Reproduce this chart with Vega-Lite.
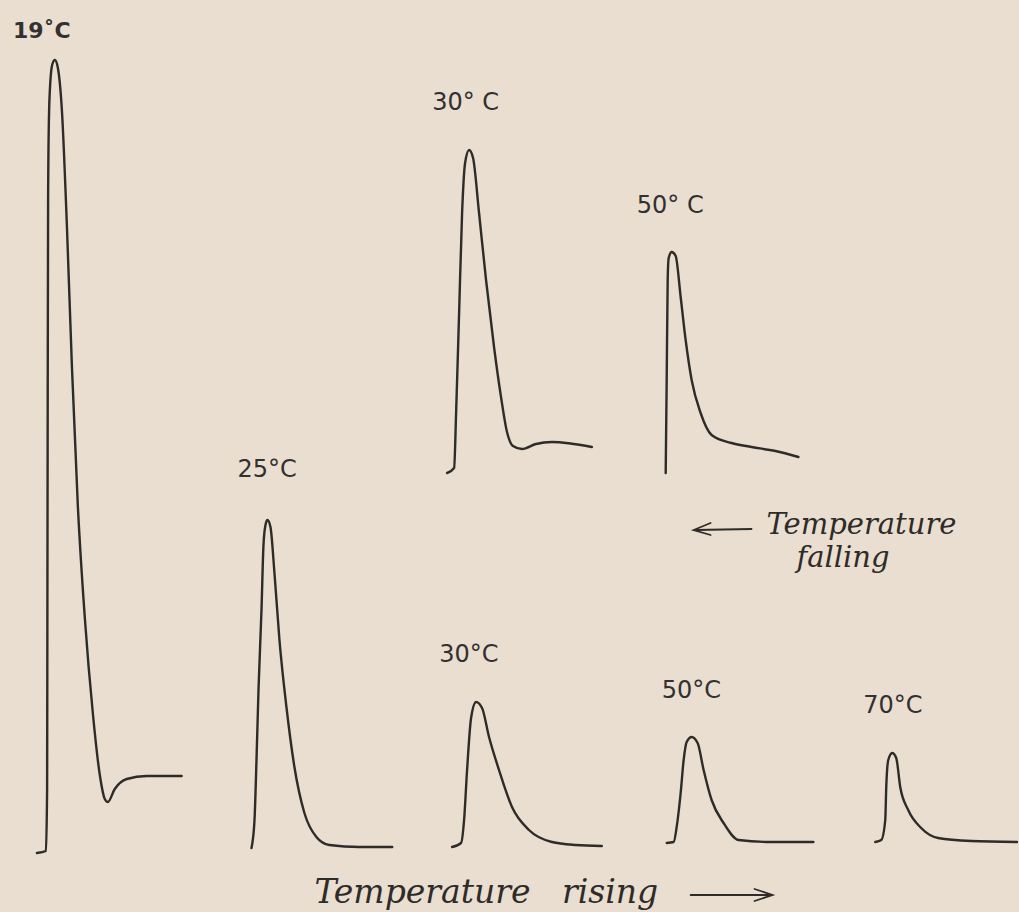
{
  "$schema": "https://vega.github.io/schema/vega-lite/v6.json",
  "width": 1019,
  "height": 912,
  "autosize": {"type": "fit", "contains": "padding"},
  "padding": 0,
  "background": "#e9ded0",
  "config": {"view": {"stroke": null}},
  "datasets": {
    "curves": [
      {"s":"19","i":0,"x":37,"y":853},{"s":"19","i":1,"x":46,"y":851},{"s":"19","i":2,"x":47.2,"y":790},{"s":"19","i":3,"x":47.5,"y":600},{"s":"19","i":4,"x":47.8,"y":400},{"s":"19","i":5,"x":48.2,"y":200},{"s":"19","i":6,"x":49,"y":120},{"s":"19","i":7,"x":50.3,"y":84},{"s":"19","i":8,"x":52.5,"y":64},{"s":"19","i":9,"x":55,"y":60},{"s":"19","i":10,"x":58,"y":68},{"s":"19","i":11,"x":62,"y":110},{"s":"19","i":12,"x":67,"y":225},{"s":"19","i":13,"x":72,"y":365},{"s":"19","i":14,"x":78,"y":506},{"s":"19","i":15,"x":85,"y":618},{"s":"19","i":16,"x":93,"y":713},{"s":"19","i":17,"x":100,"y":775},{"s":"19","i":18,"x":105,"y":799},{"s":"19","i":19,"x":108,"y":802},{"s":"19","i":20,"x":115,"y":789},{"s":"19","i":21,"x":127,"y":779},{"s":"19","i":22,"x":147,"y":776},{"s":"19","i":23,"x":182,"y":776},
      {"s":"25","i":0,"x":252,"y":848},{"s":"25","i":1,"x":255,"y":820},{"s":"25","i":2,"x":257,"y":760},{"s":"25","i":3,"x":259,"y":690},{"s":"25","i":4,"x":262,"y":610},{"s":"25","i":5,"x":264,"y":545},{"s":"25","i":6,"x":266,"y":525},{"s":"25","i":7,"x":268,"y":520},{"s":"25","i":8,"x":271,"y":527},{"s":"25","i":9,"x":275,"y":573},{"s":"25","i":10,"x":280,"y":640},{"s":"25","i":11,"x":287,"y":707},{"s":"25","i":12,"x":295,"y":767},{"s":"25","i":13,"x":305,"y":813},{"s":"25","i":14,"x":317,"y":837},{"s":"25","i":15,"x":330,"y":845},{"s":"25","i":16,"x":360,"y":847},{"s":"25","i":17,"x":393,"y":847},
      {"s":"30a","i":0,"x":448,"y":473},{"s":"30a","i":1,"x":455,"y":468},{"s":"30a","i":2,"x":457,"y":413},{"s":"30a","i":3,"x":460,"y":313},{"s":"30a","i":4,"x":463,"y":213},{"s":"30a","i":5,"x":466,"y":163},{"s":"30a","i":6,"x":470,"y":150},{"s":"30a","i":7,"x":474,"y":158},{"s":"30a","i":8,"x":480,"y":213},{"s":"30a","i":9,"x":487,"y":280},{"s":"30a","i":10,"x":495,"y":347},{"s":"30a","i":11,"x":502,"y":397},{"s":"30a","i":12,"x":508,"y":432},{"s":"30a","i":13,"x":514,"y":446},{"s":"30a","i":14,"x":523,"y":449},{"s":"30a","i":15,"x":537,"y":444},{"s":"30a","i":16,"x":553,"y":442},{"s":"30a","i":17,"x":593,"y":447},
      {"s":"50a","i":0,"x":667,"y":473},{"s":"50a","i":1,"x":668,"y":380},{"s":"50a","i":2,"x":669,"y":280},{"s":"50a","i":3,"x":670,"y":258},{"s":"50a","i":4,"x":673,"y":252},{"s":"50a","i":5,"x":677,"y":256},{"s":"50a","i":6,"x":682,"y":297},{"s":"50a","i":7,"x":687,"y":340},{"s":"50a","i":8,"x":693,"y":380},{"s":"50a","i":9,"x":702,"y":413},{"s":"50a","i":10,"x":713,"y":435},{"s":"50a","i":11,"x":733,"y":443},{"s":"50a","i":12,"x":753,"y":447},{"s":"50a","i":13,"x":777,"y":451},{"s":"50a","i":14,"x":800,"y":457},
      {"s":"30b","i":0,"x":453,"y":847},{"s":"30b","i":1,"x":462,"y":843},{"s":"30b","i":2,"x":465,"y":820},{"s":"30b","i":3,"x":468,"y":770},{"s":"30b","i":4,"x":472,"y":718},{"s":"30b","i":5,"x":477,"y":702},{"s":"30b","i":6,"x":483,"y":708},{"s":"30b","i":7,"x":490,"y":737},{"s":"30b","i":8,"x":500,"y":770},{"s":"30b","i":9,"x":513,"y":807},{"s":"30b","i":10,"x":530,"y":830},{"s":"30b","i":11,"x":553,"y":842},{"s":"30b","i":12,"x":577,"y":845},{"s":"30b","i":13,"x":603,"y":846},
      {"s":"50b","i":0,"x":668,"y":843},{"s":"50b","i":1,"x":675,"y":842},{"s":"50b","i":2,"x":678,"y":827},{"s":"50b","i":3,"x":682,"y":793},{"s":"50b","i":4,"x":685,"y":760},{"s":"50b","i":5,"x":688,"y":742},{"s":"50b","i":6,"x":693,"y":737},{"s":"50b","i":7,"x":699,"y":743},{"s":"50b","i":8,"x":705,"y":770},{"s":"50b","i":9,"x":713,"y":800},{"s":"50b","i":10,"x":725,"y":823},{"s":"50b","i":11,"x":740,"y":840},{"s":"50b","i":12,"x":773,"y":842},{"s":"50b","i":13,"x":815,"y":842},
      {"s":"70","i":0,"x":877,"y":842},{"s":"70","i":1,"x":883,"y":840},{"s":"70","i":2,"x":887,"y":820},{"s":"70","i":3,"x":888,"y":787},{"s":"70","i":4,"x":890,"y":760},{"s":"70","i":5,"x":894,"y":753},{"s":"70","i":6,"x":898,"y":758},{"s":"70","i":7,"x":902,"y":787},{"s":"70","i":8,"x":910,"y":810},{"s":"70","i":9,"x":923,"y":828},{"s":"70","i":10,"x":940,"y":838},{"s":"70","i":11,"x":973,"y":841},{"s":"70","i":12,"x":1019,"y":842}
    ],
    "arrows": [
      {"s":"fallShaft","i":0,"x":697,"y":530},{"s":"fallShaft","i":1,"x":753,"y":529},
      {"s":"fallHead","i":0,"x":712,"y":523},{"s":"fallHead","i":1,"x":695,"y":530},{"s":"fallHead","i":2,"x":712,"y":535},
      {"s":"riseShaft","i":0,"x":692,"y":895},{"s":"riseShaft","i":1,"x":771,"y":895},
      {"s":"riseHead","i":0,"x":756,"y":889},{"s":"riseHead","i":1,"x":774,"y":895},{"s":"riseHead","i":2,"x":756,"y":901}
    ],
    "labels": [
      {"t":"30° C","x":433,"y":110},
      {"t":"50° C","x":638,"y":213},
      {"t":"25°C","x":238,"y":477},
      {"t":"30°C","x":440,"y":662},
      {"t":"50°C","x":663,"y":698},
      {"t":"70°C","x":865,"y":713}
    ],
    "label19": [{"t":"19˚C","x":13,"y":38}],
    "notesTop": [
      {"t":"Temperature","x":768,"y":534},
      {"t":"falling","x":798,"y":567}
    ],
    "notesBottom": [
      {"t":"Temperature","x":315,"y":903},
      {"t":"rising","x":563,"y":903}
    ]
  },
  "encoding": {
    "x": {"field": "x", "type": "quantitative", "scale": {"domain": [0, 1019], "nice": false, "zero": false}, "axis": null},
    "y": {"field": "y", "type": "quantitative", "scale": {"domain": [0, 912], "nice": false, "zero": false, "reverse": true}, "axis": null}
  },
  "layer": [
    {
      "data": {"name": "curves"},
      "mark": {"type": "line", "color": "#2e2b28", "strokeWidth": 2.4, "interpolate": "monotone", "strokeCap": "round", "strokeJoin": "round"},
      "encoding": {"detail": {"field": "s"}, "order": {"field": "i", "type": "quantitative"}}
    },
    {
      "data": {"name": "arrows"},
      "mark": {"type": "line", "color": "#2e2b28", "strokeWidth": 1.8, "interpolate": "linear", "strokeCap": "round"},
      "encoding": {"detail": {"field": "s"}, "order": {"field": "i", "type": "quantitative"}}
    },
    {
      "data": {"name": "labels"},
      "mark": {"type": "text", "font": "DejaVu Sans", "fontSize": 24, "color": "#333030", "align": "left", "baseline": "alphabetic"},
      "encoding": {"text": {"field": "t"}}
    },
    {
      "data": {"name": "label19"},
      "mark": {"type": "text", "font": "DejaVu Sans", "fontSize": 22, "fontWeight": "bold", "color": "#333030", "align": "left", "baseline": "alphabetic"},
      "encoding": {"text": {"field": "t"}}
    },
    {
      "data": {"name": "notesTop"},
      "mark": {"type": "text", "font": "DejaVu Serif", "fontStyle": "italic", "fontSize": 29, "color": "#2e2b28", "align": "left", "baseline": "alphabetic"},
      "encoding": {"text": {"field": "t"}}
    },
    {
      "data": {"name": "notesBottom"},
      "mark": {"type": "text", "font": "DejaVu Serif", "fontStyle": "italic", "fontSize": 33, "color": "#2e2b28", "align": "left", "baseline": "alphabetic"},
      "encoding": {"text": {"field": "t"}}
    }
  ]
}
